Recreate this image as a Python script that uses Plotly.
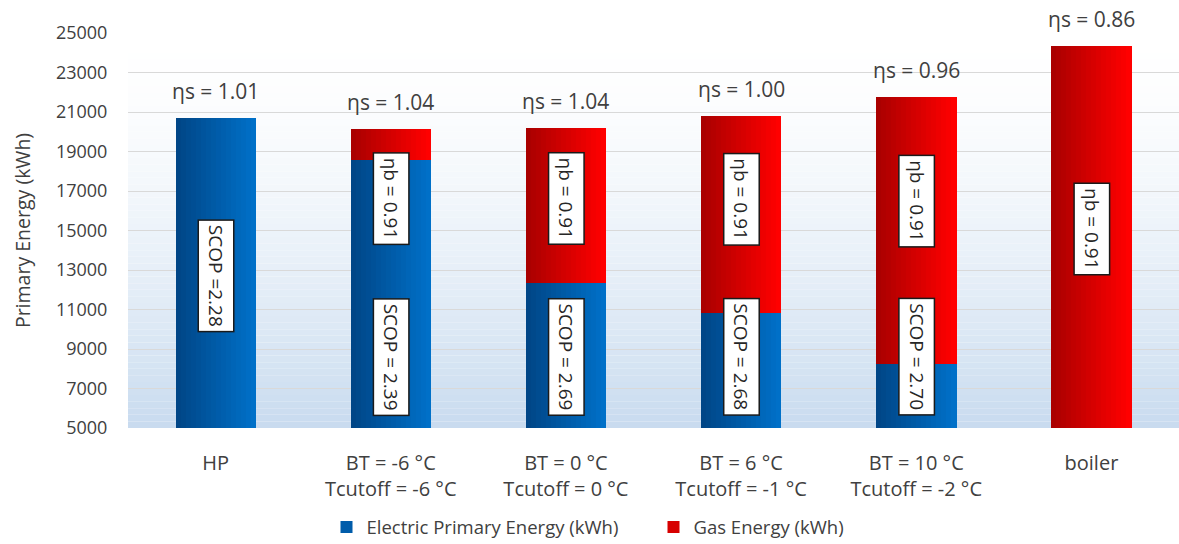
import plotly.graph_objects as go

# ---- data -------------------------------------------------------------
categories = [
    "HP",
    "BT = -6 °C<br>Tcutoff = -6 °C",
    "BT = 0 °C<br>Tcutoff = 0 °C",
    "BT = 6 °C<br>Tcutoff = -1 °C",
    "BT = 10 °C<br>Tcutoff = -2 °C",
    "boiler",
]
electric_kwh = [20700, 18550, 12350, 10800, 8250, 0]
gas_kwh = [0, 1600, 7850, 10000, 13500, 24350]
eta_s = ["1.01", "1.04", "1.04", "1.00", "0.96", "0.86"]
scop_text = ["SCOP =2.28", "SCOP = 2.39", "SCOP = 2.69", "SCOP = 2.68", "SCOP = 2.70", None]
eta_b_text = [None, "ηb = 0.91", "ηb = 0.91", "ηb = 0.91", "ηb = 0.91", "ηb = 0.91"]

# label anchor heights (kWh) for the rotated boxes inside the bars
scop_label_y = [12700, 8600, 8600, 8600, 8600, None]
eta_b_label_y = [None, 16600, 16600, 16600, 16500, 15080]

totals = [e + g for e, g in zip(electric_kwh, gas_kwh)]

# ---- styling ----------------------------------------------------------
FONT = "'Open Sans', sans-serif"
TXT = "#404040"
FS = 18
BAR_W = 0.457
N_SLICES = 16


def lerp(c1, c2, t):
    return "rgb({},{},{})".format(*[round(a + (b - a) * t) for a, b in zip(c1, c2)])


blue_l, blue_r = (0, 70, 135), (0, 112, 200)
red_l, red_r = (170, 0, 0), (255, 0, 0)

fig = go.Figure()

# each series is drawn as thin side-by-side slices to give a horizontal shading
for name, vals, bases, cl, cr in [
    ("Electric Primary Energy (kWh)", electric_kwh, [0] * 6, blue_l, blue_r),
    ("Gas Energy (kWh)", gas_kwh, electric_kwh, red_l, red_r),
]:
    for k in range(N_SLICES):
        t = k / (N_SLICES - 1)
        fig.add_trace(go.Bar(
            x=categories, y=vals, base=bases,
            width=BAR_W / N_SLICES + 0.002,
            offset=-BAR_W / 2 + k * BAR_W / N_SLICES,
            marker=dict(color=lerp(cl, cr, t), line=dict(width=0)),
            name=name, legendgroup=name,
            showlegend=(k == N_SLICES // 2),
            hoverinfo="skip",
        ))

# plot-area background: white at the top fading to pale blue at the bottom
bands = 60
top_c, bot_c = (255, 255, 255), (200, 219, 239)
for i in range(bands):
    y0, y1 = i / bands, (i + 1) / bands
    t = ((1 - (y0 + y1) / 2) ** 1.6)
    fig.add_shape(type="rect", xref="paper", yref="paper", x0=0, x1=1, y0=y0, y1=y1,
                  fillcolor=lerp(top_c, bot_c, t), line=dict(width=0), layer="below")

annotations = []
for i, cat in enumerate(categories):
    annotations.append(dict(
        x=cat, y=totals[i], xref="x", yref="y", text="ηs = " + eta_s[i],
        showarrow=False, yanchor="bottom", yshift=11,
        font=dict(family=FONT, size=21, color=TXT),
    ))
    box = dict(showarrow=False, textangle=90, bgcolor="white", bordercolor="#1a1a1a",
               borderwidth=1.5, borderpad=4, font=dict(family=FONT, size=19, color="#262626"),
               xref="x", yref="y")
    if scop_text[i]:
        annotations.append(dict(box, x=cat, y=scop_label_y[i], text=scop_text[i]))
    if eta_b_text[i]:
        annotations.append(dict(box, x=cat, y=eta_b_label_y[i], text=eta_b_text[i]))

fig.update_layout(
    width=1179, height=544,
    margin=dict(l=128, r=0, t=33, b=116, autoexpand=False),
    barmode="overlay",
    bargap=0,
    paper_bgcolor="white",
    plot_bgcolor="rgba(0,0,0,0)",
    font=dict(family=FONT, size=FS, color=TXT),
    annotations=annotations,
    legend=dict(orientation="h", x=0.50, xanchor="center", y=-0.252, yanchor="middle",
                font=dict(family=FONT, size=18.5, color=TXT), traceorder="normal",
                itemsizing="constant", entrywidth=282),
    showlegend=True,
)
fig.update_xaxes(
    showgrid=False, showline=False, zeroline=False,
    ticks="outside", ticklen=17, tickcolor="rgba(0,0,0,0)",
    tickfont=dict(family=FONT, size=20, color=TXT),
    range=[-0.5, 5.5],
)
fig.update_yaxes(
    range=[5000, 25000], tick0=5000, dtick=2000, tickformat="d",
    showgrid=True, gridcolor="#d9d9d9", gridwidth=1,
    zeroline=False, showline=False,
    ticks="outside", ticklen=16, tickcolor="rgba(0,0,0,0)",
    tickfont=dict(family=FONT, size=FS, color=TXT),
    title=dict(text="Primary Energy (kWh)", font=dict(family=FONT, size=19.5, color=TXT), standoff=20),
)

fig.write_html("out.html")
